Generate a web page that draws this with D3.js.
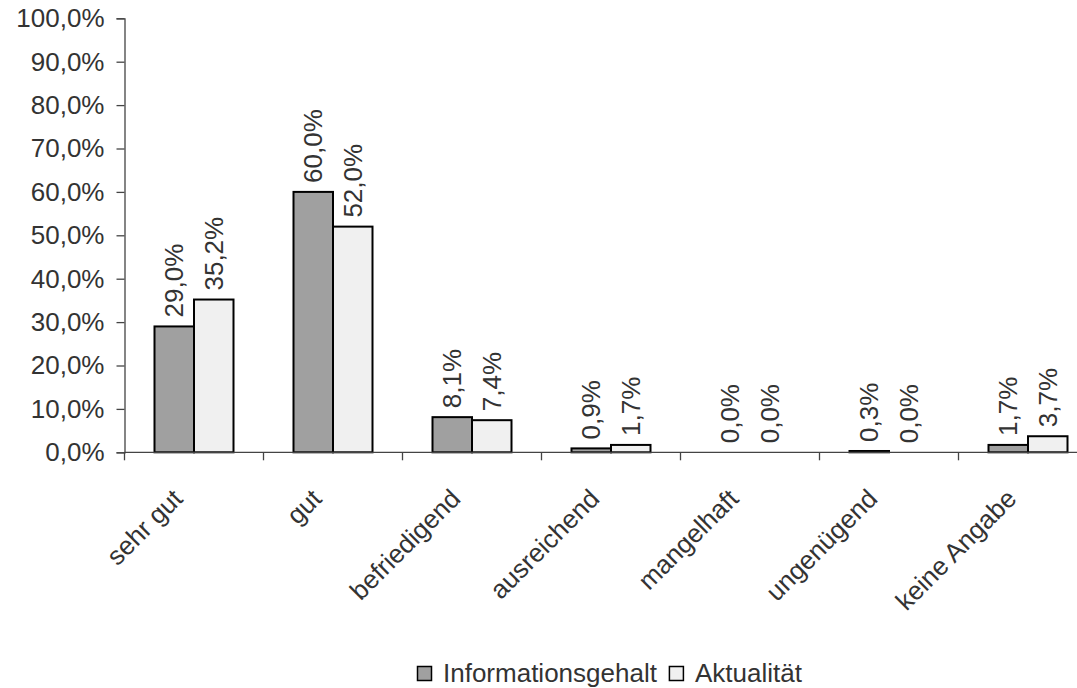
<!DOCTYPE html>
<html>
<head>
<meta charset="utf-8">
<script src="https://cdn.jsdelivr.net/npm/d3@7"></script>
<style>
  html, body { margin: 0; padding: 0; background: #fff; }
  svg { display: block; }
  text { font-family: "Liberation Sans", Arial, sans-serif; fill: #333; }
</style>
</head>
<body>
<svg id="chart" width="1077" height="688"></svg>
<script>
// Ratings and the two survey series (share of answers, in percent)
const categories = ["sehr gut", "gut", "befriedigend", "ausreichend", "mangelhaft", "ungenügend", "keine Angabe"];
const seriesNames = ["Informationsgehalt", "Aktualität"];
const informationsgehalt = [29.0, 60.0, 8.1, 0.9, 0.0, 0.3, 1.7];
const aktualitaet = [35.2, 52.0, 7.4, 1.7, 0.0, 0.0, 3.7];
const yTicks = [0, 10, 20, 30, 40, 50, 60, 70, 80, 90, 100];
const seriesColors = ["#a0a0a0", "#f0f0f0"];

const fmt = v => v.toFixed(1).replace(".", ",") + "%";
const FONT = "26px";

const svg = d3.select("#chart");
const plot = { left: 124.5, top: 18.3, bottom: 452.3, bandW: 139 };

const x = d3.scaleBand()
  .domain(categories)
  .range([plot.left, plot.left + plot.bandW * categories.length])
  .paddingInner(60 / 139)
  .paddingOuter(30 / 139);

const xSub = d3.scaleBand()
  .domain(seriesNames)
  .range([0, x.bandwidth()]);

const y = d3.scaleLinear().domain([0, 100]).range([plot.bottom, plot.top]);

const rows = categories.map((c, i) => ({
  cat: c,
  values: [informationsgehalt[i], aktualitaet[i]]
}));

// Bars (zero values are not drawn)
const groups = svg.append("g").selectAll("g")
  .data(rows).join("g")
  .attr("transform", d => `translate(${x(d.cat)},0)`);

groups.selectAll("rect")
  .data(d => d.values.map((v, k) => ({ v, k })).filter(e => e.v > 0))
  .join("rect")
  .attr("x", e => xSub(seriesNames[e.k]))
  .attr("y", e => y(e.v))
  .attr("width", xSub.bandwidth())
  .attr("height", e => y(0) - y(e.v))
  .attr("fill", e => seriesColors[e.k])
  .attr("stroke", "#000")
  .attr("stroke-width", 2);

// Value labels, rotated
groups.selectAll("text.val")
  .data(d => d.values.map((v, k) => ({ v, k })))
  .join("text")
  .attr("class", "val")
  .attr("transform", e => {
    const cx = xSub(seriesNames[e.k]) + xSub.bandwidth() / 2;
    return `translate(${cx},${y(e.v) - 9}) rotate(-90)`;
  })
  .attr("dy", "0.35em")
  .attr("text-anchor", "start")
  .style("font-size", FONT)
  .text(e => fmt(e.v));

// Y axis
const yAxis = d3.axisLeft(y)
  .tickValues(yTicks)
  .tickSize(8)
  .tickPadding(12)
  .tickFormat(fmt);

const yG = svg.append("g")
  .attr("transform", `translate(${plot.left},0)`)
  .call(yAxis);
yG.select(".domain").attr("stroke", "#444").attr("stroke-width", 1.3);
yG.selectAll(".tick line").attr("stroke", "#444").attr("stroke-width", 1.3);
yG.selectAll(".tick text").style("font-size", FONT).attr("fill", "#333");

// X axis with tick marks between categories
const xAxisG = svg.append("g");
xAxisG.append("line")
  .attr("x1", plot.left).attr("x2", 1077)
  .attr("y1", plot.bottom).attr("y2", plot.bottom)
  .attr("stroke", "#444").attr("stroke-width", 1.3);
xAxisG.selectAll("line.tick")
  .data(d3.range(categories.length + 1))
  .join("line")
  .attr("class", "tick")
  .attr("x1", i => plot.left + i * plot.bandW)
  .attr("x2", i => plot.left + i * plot.bandW)
  .attr("y1", plot.bottom).attr("y2", plot.bottom + 8)
  .attr("stroke", "#444").attr("stroke-width", 1.3);

xAxisG.selectAll("text.cat")
  .data(categories)
  .join("text")
  .attr("class", "cat")
  .attr("transform", c => `translate(${x(c) + x.bandwidth() / 2 - 10},${plot.bottom + 48}) rotate(-45)`)
  .attr("text-anchor", "end")
  .style("font-size", FONT)
  .text(c => c);

// Legend
const legend = svg.append("g").attr("transform", "translate(417,666)");
let lx = 0;
seriesNames.forEach((name, k) => {
  const item = legend.append("g").attr("transform", `translate(${lx},0)`);
  item.append("rect")
    .attr("x", 0.5).attr("y", 0.5)
    .attr("width", 14).attr("height", 14)
    .attr("fill", seriesColors[k])
    .attr("stroke", "#000").attr("stroke-width", 1.5);
  const t = item.append("text")
    .attr("x", 26).attr("y", 16)
    .style("font-size", FONT)
    .text(name);
  lx += 26 + t.node().getComputedTextLength() + 12;
});
</script>
</body>
</html>
